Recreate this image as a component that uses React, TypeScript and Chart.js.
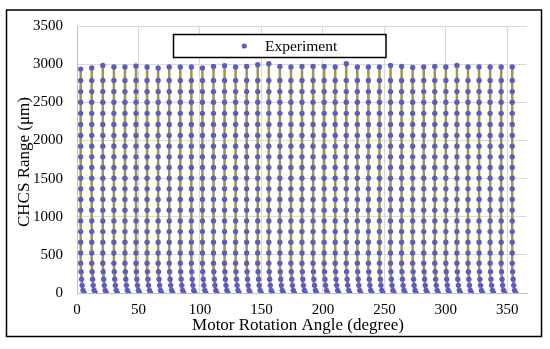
import React, { useEffect, useRef } from "react";
import { Chart, registerables } from "chart.js";

Chart.register(...registerables);

// Column angles (degrees), one column of points per angle
const angles = [3, 12, 21, 30, 39, 48, 57, 66, 75, 84, 93, 102, 111, 120, 129, 138, 147, 156, 165, 174,
  183, 192, 201, 210, 219, 228, 237, 246, 255, 264, 273, 282, 291, 300, 309, 318, 327, 336, 345, 354];

// Top point of each column (µm)
const columnTops = [2935, 2949, 2983, 2962, 2962, 2975, 2962, 2949, 2962, 2962, 2962, 2949, 2970, 2980,
  2962, 2970, 2992, 3005, 2970, 2962, 2970, 2970, 2970, 2962, 3005, 2962, 2962,
  2962, 2983, 2970, 2957, 2962, 2970, 2962, 2983, 2962, 2962, 2962, 2962, 2962];

// Remaining points of every column (µm), from top to bottom
const profileBelowTop = [2785, 2640, 2500, 2355, 2210, 2065, 1925, 1785, 1645, 1505, 1365, 1225,
  1085, 945, 805, 665, 525, 390, 280, 180, 100, 35, 0];
// Small angle drift of the lowest points (degrees)
const profileAngleShift = [0, 0, 0, 0, 0, 0, 0, 0, 0, 0, 0, 0, 0, 0, 0, 0, 0, 0, 0.3, 0.7, 1.2, 1.9, 2.8];

const xTickValues = [0, 50, 100, 150, 200, 250, 300, 350];
const yTickValues = [0, 500, 1000, 1500, 2000, 2500, 3000, 3500];

const seriesLabel = "Experiment";
const xTitle = "Motor Rotation Angle (degree)";
const yTitle = "CHCS Range (\u03bcm)";

const pointColor = "#5c5cc8";
const lineColor = "#9d9842";
const serif = '"Liberation Serif", "Times New Roman", serif';

export default function App() {
  const ref = useRef<HTMLCanvasElement | null>(null);

  useEffect(() => {
    if (!ref.current) return;

    const points: { x: number; y: number | null }[] = [];
    const linePts: { x: number; y: number | null }[] = [];
    angles.forEach((a, i) => {
      points.push({ x: a, y: columnTops[i] });
      linePts.push({ x: a, y: columnTops[i] });
      profileBelowTop.forEach((v, j) => {
        const p = { x: a + profileAngleShift[j], y: v };
        points.push(p);
        linePts.push(p);
      });
      linePts.push({ x: a, y: null });
    });

    const decor = {
      id: "decor",
      afterDraw(chart: any) {
        const ctx = chart.ctx as CanvasRenderingContext2D;
        ctx.save();
        // outer frame
        ctx.strokeStyle = "#000";
        ctx.lineWidth = 1.5;
        ctx.strokeRect(6.5, 10, 535, 326.5);
        // legend box
        ctx.fillStyle = "#fff";
        ctx.fillRect(173.5, 34.5, 212.5, 23);
        ctx.lineWidth = 1.5;
        ctx.strokeRect(173.5, 34.5, 212.5, 23);
        ctx.fillStyle = pointColor;
        ctx.beginPath();
        ctx.arc(244.3, 46, 2.6, 0, Math.PI * 2);
        ctx.fill();
        ctx.fillStyle = "#000";
        ctx.font = "15.5px " + serif;
        ctx.textAlign = "left";
        ctx.textBaseline = "alphabetic";
        ctx.fillText(seriesLabel, 265, 51);
        // axis titles
        ctx.font = "17px " + serif;
        ctx.textAlign = "center";
        ctx.fillText(xTitle, 298, 330);
        ctx.translate(29, 162);
        ctx.rotate(-Math.PI / 2);
        ctx.fillText(yTitle, 0, 0);
        ctx.restore();
      },
    };

    const chart = new Chart(ref.current, {
      type: "scatter",
      data: {
        datasets: [
          {
            label: seriesLabel,
            data: points as any,
            pointRadius: 2.7,
            pointBorderWidth: 0,
            pointBackgroundColor: pointColor,
            pointBorderColor: pointColor,
            backgroundColor: pointColor,
            order: 1,
          },
          {
            label: "lines",
            data: linePts as any,
            showLine: true,
            spanGaps: false,
            pointRadius: 0,
            borderColor: lineColor,
            borderWidth: 2.5,
            order: 2,
          },
        ],
      },
      options: {
        animation: false,
        responsive: false,
        devicePixelRatio: 1,
        layout: { padding: { left: 0, right: 23, top: 26, bottom: 0 } },
        plugins: { legend: { display: false }, tooltip: { enabled: false } },
        scales: {
          x: {
            type: "linear",
            min: 0,
            max: 366,
            afterFit: (s: any) => { s.height = 56; },
            afterBuildTicks: (s: any) => { s.ticks = xTickValues.map((v) => ({ value: v })); },
            ticks: {
              padding: 8,
              color: "#000",
              font: { family: serif, size: 15 },
              maxRotation: 0,
              callback: (v: any) => String(v),
            },
            grid: { color: "#d9d9d9", drawTicks: false, lineWidth: 1 },
            border: { color: "#bfbfbf" },
          },
          y: {
            type: "linear",
            min: 0,
            max: 3500,
            afterFit: (s: any) => { s.width = 77; },
            afterBuildTicks: (s: any) => { s.ticks = yTickValues.map((v) => ({ value: v })); },
            ticks: {
              padding: 14,
              color: "#000",
              font: { family: serif, size: 15 },
              callback: (v: any) => String(v),
            },
            grid: { color: "#d9d9d9", drawTicks: false, lineWidth: 1 },
            border: { color: "#bfbfbf" },
          },
        },
      },
      plugins: [decor],
    });

    return () => chart.destroy();
  }, []);

  return (
    <div style={{ position: "absolute", left: 0, top: 0, width: 550, height: 349, background: "#fff" }}>
      <canvas ref={ref} width={550} height={349} style={{ display: "block" }} />
    </div>
  );
}
